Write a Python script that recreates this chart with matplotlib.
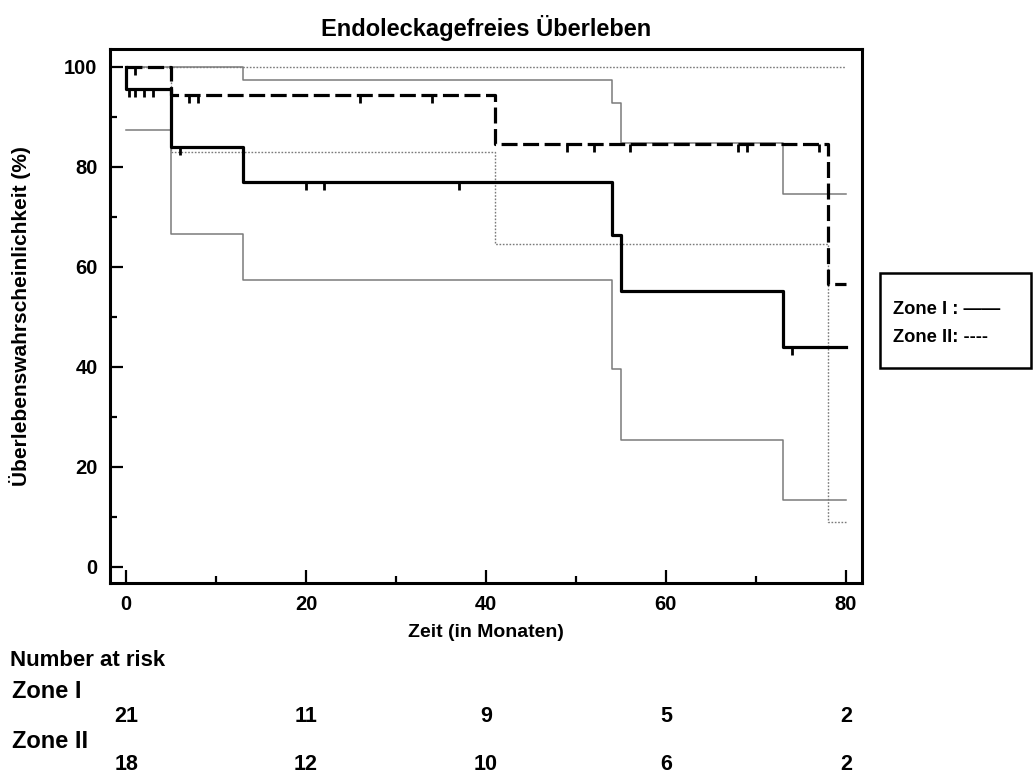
import numpy as np
import matplotlib
matplotlib.use("Agg")
import matplotlib.pyplot as plt
from matplotlib.patches import Rectangle

plt.rcParams['font.family'] = ['Liberation Sans', 'DejaVu Sans']

# ---- data ----
zone1_t = [0, 0, 5, 13, 54, 55, 73, 80]
zone1_s = [100, 95.7, 84.1, 77.1, 66.4, 55.3, 44.1, 44.1]
zone1_lo_t = [0, 5, 13, 54, 55, 73, 80]
zone1_lo_s = [87.5, 66.6, 57.4, 39.7, 25.5, 13.5, 13.5]
zone1_hi_t = [0, 13, 54, 55, 73, 80]
zone1_hi_s = [100, 97.4, 92.9, 84.9, 74.7, 74.7]
zone1_censor = [0.3, 1, 2, 3, 6, 20, 22, 37, 74]

zone2_t = [0, 5, 41, 78, 80]
zone2_s = [100, 94.5, 84.7, 56.6, 56.6]
zone2_lo_t = [0, 5, 41, 78, 80]
zone2_lo_s = [100, 83.1, 64.6, 9.1, 9.1]
zone2_hi_t = [0, 80]
zone2_hi_s = [100, 100]
zone2_censor = [1, 7, 8, 26, 34, 49, 52, 56, 68, 69, 77]

risk_times = [0, 20, 40, 60, 80]
risk_zone1 = [21, 11, 9, 5, 2]
risk_zone2 = [18, 12, 10, 6, 2]

W, H = 1036, 776
fig = plt.figure(figsize=(W / 100, H / 100), dpi=100)
ax = fig.add_axes([110 / W, 1 - 583 / H, (862 - 110) / W, (583 - 49) / H])


def step_value(ts, ss, t):
    ts = np.asarray(ts, float)
    ss = np.asarray(ss, float)
    idx = np.searchsorted(ts, t, side='right') - 1
    return ss[idx]


gray = '#7a7a7a'
# confidence bands
ax.step(zone1_lo_t, zone1_lo_s, where='post', color=gray, lw=1.1, zorder=2)
ax.step(zone1_hi_t, zone1_hi_s, where='post', color=gray, lw=1.1, zorder=2)
ax.step(zone2_lo_t, zone2_lo_s, where='post', color=gray, lw=1.0,
        ls=(0, (1.2, 1.2)), zorder=2)
ax.step(zone2_hi_t, zone2_hi_s, where='post', color=gray, lw=1.0,
        ls=(0, (1.2, 1.2)), zorder=2)

# main curves
lw = 2.3
ax.step(zone1_t, zone1_s, where='post', color='black', lw=lw, zorder=4)
ax.step(zone2_t, zone2_s, where='post', color='black', lw=lw,
        ls=(0, (11.5 / lw, 4.0 / lw)), zorder=3)

tick_marker = [(0, 0), (0, -1)]
c1 = [step_value(zone1_t, zone1_s, t) for t in zone1_censor]
c2 = [step_value(zone2_t, zone2_s, t) for t in zone2_censor]
ax.plot(zone1_censor, c1, ls='none', marker=tick_marker, ms=12,
        mec='black', mew=2.0, zorder=5)
ax.plot(zone2_censor, c2, ls='none', marker=tick_marker, ms=12,
        mec='black', mew=2.0, zorder=5)

ax.set_xlim(-1.8, 81.8)
ax.set_ylim(-3.2, 103.6)
ax.set_xticks([0, 20, 40, 60, 80])
ax.set_xticks([10, 30, 50, 70], minor=True)
ax.set_yticks([0, 20, 40, 60, 80, 100])
ax.set_yticks([10, 30, 50, 70, 90], minor=True)
ax.tick_params(which='major', direction='in', length=9.5, width=1.6,
               labelsize=14.5)
ax.tick_params(axis='x', which='major', pad=9)
ax.tick_params(axis='y', which='major', pad=9)
ax.tick_params(which='minor', direction='in', length=5, width=1.6)
for lab in ax.get_xticklabels() + ax.get_yticklabels():
    lab.set_fontweight('bold')
for sp in ax.spines.values():
    sp.set_linewidth(2.2)

fig.text(486 / W, 1 - 28 / H, 'Endoleckagefreies Überleben', fontsize=17,
         fontweight='bold', va='center', ha='center')
ax.set_xlabel('Zeit (in Monaten)', fontsize=14, fontweight='bold')
ax.xaxis.set_label_coords(0.5, -(624 - 583) / (583 - 49))
ax.set_ylabel('Überlebenswahrscheinlichkeit (%)', fontsize=15,
              fontweight='bold')
ax.yaxis.set_label_coords(-(110 - 31) / (862 - 110), 0.5)

# legend box (figure coordinates)
fig.patches.append(Rectangle((880 / W, 1 - 368 / H), (1031 - 880) / W,
                             (368 - 273) / H, transform=fig.transFigure,
                             fill=False, lw=1.8, ec='black'))
fig.text(893 / W, 1 - 310 / H, 'Zone I : \u2014\u2014', fontsize=13.2,
         fontweight='bold', va='center', ha='left')
fig.text(893 / W, 1 - 338 / H, 'Zone II: ----', fontsize=13.2,
         fontweight='bold', va='center', ha='left')

# number at risk table
fig.text(10 / W, 1 - 660 / H, 'Number at risk', fontsize=16,
         fontweight='bold', va='center', ha='left')
fig.text(12 / W, 1 - 692 / H, 'Zone I', fontsize=17, fontweight='bold',
         va='center', ha='left')
fig.text(12 / W, 1 - 742 / H, 'Zone II', fontsize=17, fontweight='bold',
         va='center', ha='left')
for t, n1, n2 in zip(risk_times, risk_zone1, risk_zone2):
    xf = fig.transFigure.inverted().transform(ax.transData.transform((t, 0)))[0]
    fig.text(xf, 1 - 716 / H, str(n1), fontsize=15.5, fontweight='bold',
             va='center', ha='center')
    fig.text(xf, 1 - 764 / H, str(n2), fontsize=15.5, fontweight='bold',
             va='center', ha='center')

fig.savefig('out.png', dpi=100, facecolor='white')
